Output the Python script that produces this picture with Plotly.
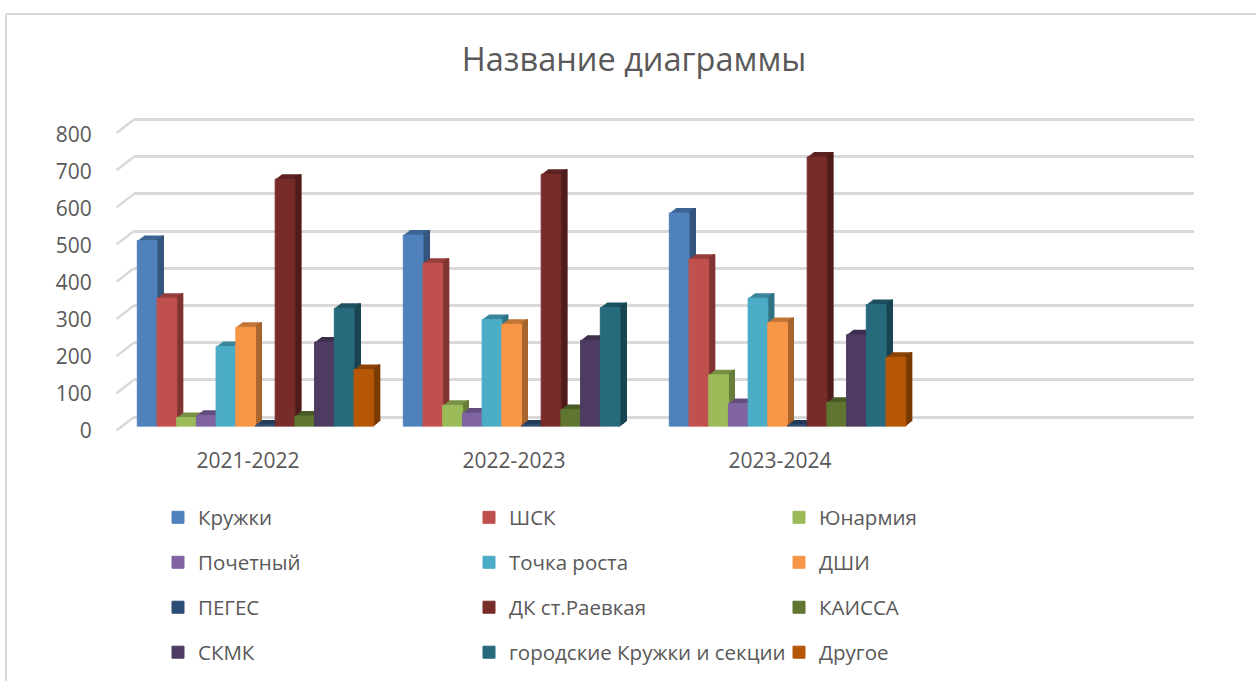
import plotly.graph_objects as go

categories = ["2021-2022", "2022-2023", "2023-2024"]
series_names = ["Кружки", "ШСК", "Юнармия", "Почетный", "Точка роста", "ДШИ",
                "ПЕГЕС", "ДК ст.Раевкая", "КАИССА", "СКМК", "городские Кружки и секции", "Другое"]
kruzhki = [500, 515, 574]
shsk = [345, 439, 450]
yunarmia = [24, 57, 139]
pochetny = [30, 36, 62]
tochka = [215, 288, 345]
dshi = [267, 275, 280]
peges = [3, 3, 3]
dk = [665, 678, 725]
kaissa = [28, 46, 65]
skmk = [227, 232, 247]
gorodskie = [318, 320, 328]
drugoe = [153, None, 186]
series_values = [kruzhki, shsk, yunarmia, pochetny, tochka, dshi, peges, dk, kaissa, skmk, gorodskie, drugoe]
colors = ["#4F81BD", "#C0504D", "#9BBB59", "#8064A2", "#4BACC6", "#F79646",
          "#2C4D75", "#772C2A", "#5F7530", "#4D3B62", "#276A7C", "#B65708"]
y_ticks = [0, 100, 200, 300, 400, 500, 600, 700, 800]

W, H = 1256, 681
TEXT = "#595959"
GRID = "#D9D9D9"
FONT = "Open Sans"


def shade(c, f):
    r, g, b = int(c[1:3], 16), int(c[3:5], 16), int(c[5:7], 16)
    return f"rgb({int(r*f)},{int(g*f)},{int(b*f)})"


def px(x):
    return x / W


def py(y):
    return 1 - y / H


# geometry of the pseudo-3D box (pixels)
BAR_X0, BAR_X1, BAR_YB, BAR_YT = 122.5, 1186.5, 426.5, 129.0
LAYERS = 6
DX, DY = 6.5 / LAYERS, 5.0 / LAYERS
CAT_SPAN = (BAR_X1 - BAR_X0) / 4
BAR_W = 19.7 / CAT_SPAN
STRIP_W = (DX + 0.4) / CAT_SPAN
n = len(series_names)
unit = (417 - 119.5) / 800
PAD = 40  # value units added round the wall range so that its end grid lines are kept

fig = go.Figure()
layout_axes = {}


def add_axes(idx, x0, x1, yb, yt, **yopts):
    xname = "xaxis" if idx == 1 else f"xaxis{idx}"
    yname = "yaxis" if idx == 1 else f"yaxis{idx}"
    xref = "x" if idx == 1 else f"x{idx}"
    yref = "y" if idx == 1 else f"y{idx}"
    layout_axes[xname] = dict(domain=[px(x0), px(x1)], range=[-0.5, 3.5], type="category",
                              categoryorder="array", categoryarray=categories,
                              anchor=yref, showgrid=False, showticklabels=False, zeroline=False,
                              showline=False, ticks="")
    layout_axes[yname] = dict(domain=[py(yb), py(yt)], range=[0, 800], anchor=xref,
                              showgrid=False, showticklabels=False, zeroline=False, showline=False, ticks="")
    layout_axes[yname].update(yopts)
    return xref, yref


# back wall with its grid lines
wx, wy = add_axes(1, 134, 1194, 417 + PAD * unit, 119.5 - PAD * unit, range=[-PAD, 800 + PAD],
                  showgrid=True, gridcolor=GRID, gridwidth=2.5, tickvals=y_ticks)
fig.add_trace(go.Bar(x=categories, y=[None] * 3, xaxis=wx, yaxis=wy, showlegend=False, hoverinfo="skip"))

# axis that only carries labels, on the front edge of the box
lx, ly = add_axes(2, 115, 1179, 430.5, 135, showticklabels=True, tickvals=y_ticks,
                  ticks="outside", ticklen=18, tickcolor="rgba(0,0,0,0)",
                  tickfont=dict(family=FONT, size=21, color=TEXT))
layout_axes["xaxis2"].update(showticklabels=True, ticks="outside", ticklen=11, tickcolor="rgba(0,0,0,0)",
                             tickfont=dict(family=FONT, size=21, color=TEXT))
fig.add_trace(go.Bar(x=categories, y=[None] * 3, xaxis=lx, yaxis=ly, showlegend=False, hoverinfo="skip"))

# extruded layers, back to front
axis_idx = 3
for k in range(LAYERS, 0, -1):
    xr, yr = add_axes(axis_idx, BAR_X0 + k * DX, BAR_X1 + k * DX, BAR_YB - k * DY, BAR_YT - k * DY)
    axis_idx += 1
    for i, (vals, col) in enumerate(zip(series_values, colors)):
        off = -n * BAR_W / 2 + i * BAR_W
        fig.add_trace(go.Bar(x=categories, y=vals, xaxis=xr, yaxis=yr, width=BAR_W, offset=off,
                             marker=dict(color=shade(col, 0.78), line_width=0),
                             showlegend=False, hoverinfo="skip"))
        fig.add_trace(go.Bar(x=categories, y=vals, xaxis=xr, yaxis=yr, width=STRIP_W,
                             offset=off + BAR_W - STRIP_W,
                             marker=dict(color=shade(col, 0.66), line_width=0),
                             showlegend=False, hoverinfo="skip"))

# front faces, with the legend entries
fx, fy = add_axes(axis_idx, BAR_X0, BAR_X1, BAR_YB, BAR_YT)
for i, (name, vals, col) in enumerate(zip(series_names, series_values, colors)):
    legend_name = "legend" if i % 3 == 0 else f"legend{i % 3 + 1}"
    fig.add_trace(go.Bar(x=categories, y=vals, name=name, xaxis=fx, yaxis=fy, width=BAR_W,
                         offset=-n * BAR_W / 2 + i * BAR_W,
                         marker=dict(color=col, line=dict(color=col, width=1)),
                         legend=legend_name, legendgroup=name))

legend_common = dict(orientation="v", xanchor="left", yanchor="top", y=py(497.5),
                     font=dict(family=FONT, size=20.5, color=TEXT), tracegroupgap=15.3,
                     bgcolor="rgba(0,0,0,0)", borderwidth=0, traceorder="grouped")

# slanted floor and side-wall grid lines
shapes = []
for v in y_ticks:
    shapes.append(dict(type="line", xref="paper", yref="paper", layer="below",
                       x0=px(116.5), y0=py(430.5 - v * unit), x1=px(134), y1=py(417 - v * unit),
                       line=dict(color=GRID, width=2.5)))
# chart frame
shapes.append(dict(type="line", xref="paper", yref="paper", x0=px(6), y0=py(14), x1=px(1256), y1=py(14),
                   line=dict(color=GRID, width=2)))
shapes.append(dict(type="line", xref="paper", yref="paper", x0=px(6), y0=py(14), x1=px(6), y1=0,
                   line=dict(color=GRID, width=2)))

fig.update_layout(
    width=W, height=H, margin=dict(l=0, r=0, t=0, b=0, autoexpand=False), autosize=False,
    paper_bgcolor="white", plot_bgcolor="rgba(0,0,0,0)", barmode="overlay",
    title=dict(text="Название диаграммы", x=634 / W, xanchor="center", y=py(60), yanchor="middle",
               font=dict(family=FONT, size=32.5, color=TEXT)),
    legend=dict(x=px(158), **legend_common),
    legend2=dict(x=px(469), **legend_common),
    legend3=dict(x=px(779), **legend_common),
    shapes=shapes,
    **layout_axes,
)

fig.write_html("out.html", config=dict(displayModeBar=False),
               post_script="document.body.style.margin='0';document.documentElement.style.overflow='hidden';")
